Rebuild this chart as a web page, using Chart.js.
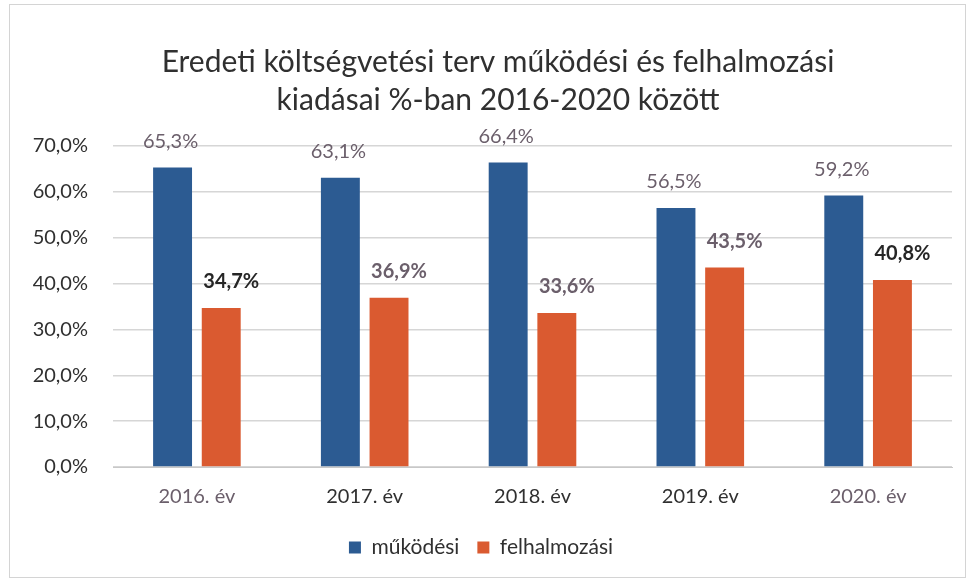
<!DOCTYPE html>
<html>
<head>
<meta charset="utf-8">
<script src="https://cdn.jsdelivr.net/npm/chart.js@4"></script>
<style>
  body { margin: 0; background: #fff; }
  #wrap { position: relative; width: 968px; height: 582px; }
  #frame { position: absolute; left: 9px; top: 4px; width: 957px; height: 574px; border: 1px solid #d4d4d4; box-sizing: border-box; pointer-events: none; }
</style>
</head>
<body>
<div id="wrap">
  <canvas id="myChart" width="968" height="582"></canvas>
  <div id="frame"></div>
</div>
<script>
const categories = ["2016. év", "2017. év", "2018. év", "2019. év", "2020. év"];
const mukodesi = [65.3, 63.1, 66.4, 56.5, 59.2];
const felhalmozasi = [34.7, 36.9, 33.6, 43.5, 40.8];
const yTicks = [0, 10, 20, 30, 40, 50, 60, 70];
const titleLines = ["Eredeti költségvetési terv működési és felhalmozási", "kiadásai %-ban 2016-2020 között"];

const fmt = v => v.toFixed(1).replace(".", ",") + "%";

// title drawn a bit right of the canvas centre, like the original
const chartTitle = {
  id: "chartTitle",
  afterDraw(chart) {
    const ctx = chart.ctx;
    ctx.save();
    ctx.font = "30px Lato";
    ctx.fillStyle = "#303030";
    ctx.textAlign = "center";
    ctx.textBaseline = "middle";
    ctx.fillText(titleLines[0], 498, 62);
    ctx.fillText(titleLines[1], 498, 100);
    ctx.restore();
  }
};

// simple value labels above each bar
const barLabels = {
  id: "barLabels",
  afterDatasetsDraw(chart) {
    const ctx = chart.ctx;
    ctx.save();
    ctx.textAlign = "center";
    ctx.textBaseline = "middle";
    chart.data.datasets.forEach((ds, i) => {
      const meta = chart.getDatasetMeta(i);
      meta.data.forEach((bar, j) => {
        if (i === 0) {
          ctx.font = "20px Lato";
          ctx.fillStyle = "#6b5f6b";
          ctx.fillText(fmt(ds.data[j]), bar.x - 2, bar.y - 26);
        } else {
          ctx.font = "bold 20px Lato";
          ctx.fillStyle = (j === 0 || j === 4) ? "#262626" : "#6b5f6b";
          ctx.fillText(fmt(ds.data[j]), bar.x + 10, bar.y - 26);
        }
      });
    });
    ctx.restore();
  }
};

new Chart(document.getElementById("myChart"), {
  type: "bar",
  data: {
    labels: categories,
    datasets: [
      { label: "működési", data: mukodesi, backgroundColor: "#2c5b92" },
      { label: "felhalmozási", data: felhalmozasi, backgroundColor: "#da5a30" }
    ]
  },
  options: {
    responsive: false,
    animation: false,
    layout: { padding: { left: 10, right: 16, top: 146, bottom: 14 } },
    datasets: { bar: { categoryPercentage: 0.58, barPercentage: 0.8 } },
    scales: {
      x: {
        grid: { display: false },
        border: { color: "#c8c8c8" },
        ticks: {
          color: ["#6b5f6b", "#303030", "#303030", "#303030", "#6b5f6b"],
          font: { family: "Lato", size: 20 },
          padding: 10
        }
      },
      y: {
        min: 0,
        max: 70,
        afterBuildTicks: axis => { axis.ticks = yTicks.map(v => ({ value: v })); },
        afterFit: axis => { axis.width = 103; },
        grid: { color: "#d6d6d6", lineWidth: 1.5, drawTicks: false },
        border: { display: false },
        ticks: { color: "#303030", font: { family: "Lato", size: 20 }, padding: 25, callback: v => fmt(v) }
      }
    },
    plugins: {
      title: { display: false },
      legend: {
        position: "bottom",
        labels: { color: "#303030", font: { family: "Lato", size: 21 }, boxWidth: 12, boxHeight: 12, padding: 18 }
      },
      tooltip: { enabled: false }
    }
  },
  plugins: [barLabels, chartTitle]
});
</script>
</body>
</html>
